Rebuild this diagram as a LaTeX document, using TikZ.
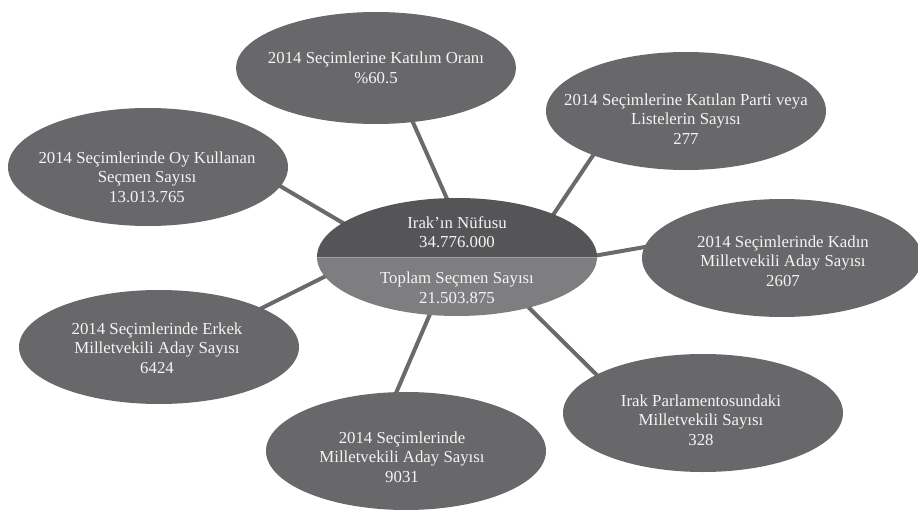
\documentclass[tikz,border=0pt]{standalone}
\usepackage{fontspec}
\setmainfont{Liberation Serif}
\usetikzlibrary{calc,backgrounds,shapes.geometric}
\definecolor{bubfill}{HTML}{68686B}
\definecolor{topfill}{HTML}{555557}
\definecolor{botfill}{HTML}{7E7E81}
\definecolor{linkcol}{HTML}{6A6A6C}
\definecolor{txtcol}{HTML}{F4F4F4}
\definecolor{divcol}{HTML}{A0A0A2}
\begin{document}
\begin{tikzpicture}[x=1pt,y=-1pt,
  bub/.style={ellipse, fill=bubfill, minimum width=280pt, minimum height=118pt, inner sep=0pt},
  txt/.style={text=txtcol, align=center, inner sep=0pt, font=\fontsize{16.8}{19.5}\selectfont},
  link/.style={draw=linkcol, line width=4pt}]
\useasboundingbox (0,0) rectangle (918,513);

% outer ellipses
\node[bub, minimum height=112pt] (e1) at (376,68) {};
\node[bub] (e2) at (686,111) {};
\node[bub] (e3) at (148,167) {};
\node[bub] (e4) at (782,258) {};
\node[bub, minimum height=114pt] (e5) at (159,347) {};
\node[bub] (e6) at (406,451) {};
\node[bub] (e7) at (703,413) {};

% centre ellipse
\node[ellipse, minimum width=280pt, minimum height=118pt, inner sep=0pt] (c) at (457,257) {};
\begin{scope}
  \clip (c.center) ellipse [x radius=140, y radius=59];
  \fill[topfill] ($(c.west)+(-2,-70)$) rectangle ($(c.east)+(2,0)$);
  \fill[botfill] ($(c.west)+(-2,0)$) rectangle ($(c.east)+(2,70)$);
  \draw[divcol, line width=0.8pt] (c.west) -- (c.east);
\end{scope}

% texts
\node[txt] (e1t) at (376,68) {2014 Seçimlerine Katılım Oranı\\\%60.5};
\node[txt] (e2t) at (686,119) {2014 Seçimlerine Katılan Parti veya\\Listelerin Sayısı\\277};
\node[txt] (e3t) at (147,177) {2014 Seçimlerinde Oy Kullanan\\Seçmen Sayısı\\13.013.765};
\node[txt] (e4t) at (783,261) {2014 Seçimlerinde Kadın\\Milletvekili Aday Sayısı\\2607};
\node[txt] (e5t) at (157,348) {2014 Seçimlerinde Erkek\\Milletvekili Aday Sayısı\\6424};
\node[txt] (e6t) at (402,457) {2014 Seçimlerinde\\Milletvekili Aday Sayısı\\9031};
\node[txt] (e7t) at (701,420) {Irak Parlamentosundaki\\Milletvekili Sayısı\\328};
\node[txt] (ct1) at (457,232) {Irak’ın Nüfusu\\34.776.000};
\node[txt] (ct2) at (457,288) {Toplam Seçmen Sayısı\\21.503.875};

% connectors behind
\begin{pgfonlayer}{background}
  \fill[white] (0,0) rectangle (918,513);
  \draw[link] ($(c)+(-1,-38)$) -- ($(e1)+(27,32)$);
  \draw[link] ($(c)+(86,-27)$) -- ($(e2)+(-80,25)$);
  \draw[link] ($(c)+(-97,-24)$) -- ($(e3)+(115,9)$);
  \draw[link] ($(c)+(125,1)$) -- ($(e4)+(-120,-14)$);
  \draw[link] ($(c)+(-115,11)$) -- ($(e5)+(89,-32)$);
  \draw[link] ($(c)+(-18,36)$) -- ($(e6)+(-19,-37)$);
  \draw[link] ($(c)+(54,33)$) -- ($(e7)+(-90,-22)$);
\end{pgfonlayer}
\end{tikzpicture}
\end{document}
